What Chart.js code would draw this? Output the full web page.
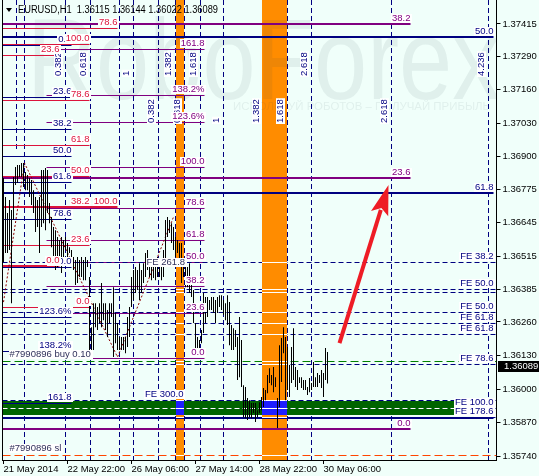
<!DOCTYPE html>
<html>
<head>
<meta charset="utf-8">
<title>EURUSD,H1</title>
<script src="https://cdn.jsdelivr.net/npm/chart.js@4.4.1/dist/chart.umd.min.js"></script>
<style>
  html, body { margin: 0; padding: 0; background: #F0FFFA; }
  canvas { display: block; }
</style>
</head>
<body>
<canvas id="chart" width="539" height="476"></canvas>
<script>
// H1 bars from 21 May 2014 14:00
const highs = [
  1.36818, 1.36744, 1.36682, 1.36733, 1.36694, 1.36822, 1.36861, 1.36868, 1.36868, 1.36876,
  1.36876, 1.36841, 1.36830, 1.36818, 1.36810, 1.36771, 1.36744, 1.36733, 1.36744, 1.36849,
  1.36849, 1.36857, 1.36849, 1.36721, 1.36667, 1.36628, 1.36616, 1.36589, 1.36578, 1.36589,
  1.36578, 1.36589, 1.36566, 1.36550, 1.36539, 1.36512, 1.36500, 1.36512, 1.36500, 1.36512,
  1.36500, 1.36512, 1.36500, 1.36434, 1.36240, 1.36333, 1.36333, 1.36318, 1.36333, 1.36411,
  1.36333, 1.36333, 1.36306, 1.36333, 1.36333, 1.36395, 1.36295, 1.36256, 1.36202, 1.36202,
  1.36202, 1.36202, 1.36279, 1.36318, 1.36434, 1.36461, 1.36473, 1.36461, 1.36488, 1.36461,
  1.36488, 1.36527, 1.36539, 1.36488, 1.36473, 1.36473, 1.36500, 1.36512, 1.36500, 1.36500,
  1.36539, 1.36655, 1.36667, 1.36655, 1.36643, 1.36628, 1.36589, 1.36578, 1.36566, 1.36566,
  1.36500, 1.36500, 1.36473, 1.36488, 1.36434, 1.36384, 1.36256, 1.36202, 1.36190, 1.36229,
  1.36372, 1.36357, 1.36357, 1.36345, 1.36357, 1.36357, 1.36345, 1.36357, 1.36364, 1.36364,
  1.36345, 1.36333, 1.36364, 1.36337, 1.36248, 1.36236, 1.36229, 1.36202, 1.36279, 1.36190,
  1.36015, 1.36008, 1.35965, 1.35957, 1.35946, 1.35946, 1.35946, 1.35918, 1.35949, 1.35969,
  1.36004, 1.35996, 1.36054, 1.36081, 1.36054, 1.36085, 1.36046, 1.35965, 1.36170, 1.36198,
  1.36240, 1.36202, 1.36163, 1.36093, 1.36163, 1.36236, 1.36085, 1.36074, 1.36046, 1.36046,
  1.36035, 1.36035, 1.36008, 1.36043, 1.36023, 1.36105, 1.36046, 1.36062, 1.36054, 1.36074,
  1.36062, 1.36159, 1.36144
];
const lows = [
  1.36492, 1.36527, 1.36527, 1.36539, 1.36333, 1.36655, 1.36791, 1.36799, 1.36822, 1.36822,
  1.36783, 1.36771, 1.36771, 1.36744, 1.36713, 1.36682, 1.36609, 1.36628, 1.36527, 1.36628,
  1.36643, 1.36616, 1.36682, 1.36643, 1.36550, 1.36488, 1.36461, 1.36473, 1.36488, 1.36450,
  1.36500, 1.36539, 1.36488, 1.36527, 1.36488, 1.36461, 1.36403, 1.36411, 1.36434, 1.36434,
  1.36422, 1.36422, 1.36473, 1.36151, 1.36143, 1.36151, 1.36240, 1.36229, 1.36256, 1.36240,
  1.36267, 1.36229, 1.36202, 1.36256, 1.36279, 1.36124, 1.36178, 1.36151, 1.36151, 1.36151,
  1.36151, 1.36139, 1.36163, 1.36202, 1.36318, 1.36345, 1.36372, 1.36384, 1.36345, 1.36372,
  1.36411, 1.36434, 1.36461, 1.36434, 1.36422, 1.36430, 1.36422, 1.36434, 1.36434, 1.36422,
  1.36434, 1.36500, 1.36589, 1.36605, 1.36566, 1.36539, 1.36512, 1.36527, 1.36500, 1.36411,
  1.36434, 1.36395, 1.36395, 1.36372, 1.36357, 1.36256, 1.36124, 1.36124, 1.36151, 1.36178,
  1.36217, 1.36256, 1.36279, 1.36306, 1.36306, 1.36295, 1.36256, 1.36295, 1.36318, 1.36306,
  1.36287, 1.36267, 1.36248, 1.36170, 1.36151, 1.36151, 1.36163, 1.36035, 1.36046, 1.36008,
  1.35891, 1.35887, 1.35880, 1.35891, 1.35887, 1.35907, 1.35872, 1.35891, 1.35907, 1.35918,
  1.35930, 1.35957, 1.35984, 1.36023, 1.36015, 1.35988, 1.36008, 1.35849, 1.35930, 1.36027,
  1.36139, 1.35957, 1.35996, 1.35969, 1.36023, 1.36035, 1.36008, 1.35996, 1.36023, 1.36004,
  1.35996, 1.35996, 1.35977, 1.35988, 1.35996, 1.36008, 1.36008, 1.36008, 1.36023, 1.36004,
  1.35969, 1.36035, 1.36022
];
const slotCount = 247;   // visible bar slots, incl. empty space on the right
const quote = ['1.36115', '1.36144', '1.36022', '1.36089'];
const lastPrice = 1.36089;

const xTickIdx = [0, 32, 64, 96, 128, 160];
const xTickText = ['21 May 2014', '22 May 22:00', '26 May 06:00', '27 May 14:00', '28 May 22:00', '30 May 06:00'];
const yTicks = [1.37415, 1.37290, 1.37160, 1.37030, 1.36900, 1.36775, 1.36645,
                1.36515, 1.36385, 1.36260, 1.36130, 1.36000, 1.35870, 1.35740];
const yMin = 1.35725, yMax = 1.37508;

// fibo time zones: bar index of each line
const tzALevels = ['', '0.382', '0.618', '1', '1.382', '1.618', '2.618', '4.236'];
const tzAIdx = [10, 30.5, 43, 64.5, 85.5, 98, 153.5, 242];
const tzBLevels = ['', '0.382', '0.618', '1', '1.382', '1.618', '2.618'];
const tzBIdx = [57.5, 77, 90, 109.5, 129.5, 141.5, 193.5];
// a short vertical line at the top left (bar index, lowest price reached)
const shortVIdx = 6, shortVEnd = 1.36927;

// rectangles
const orangeFrom = [86, 129];
const orangeTo = [90, 141.5];
const greenTop = 1.35953, greenBottom = 1.35899, greenEnd = 226;

// fibo retracements
const fibNLevels = ['0.0', '23.6', '38.2', '50.0', '61.8', '78.6', '100.0', '123.6%', '138.2%', '161.8'];
const fibNPrices = [1.37334, 1.37132, 1.37008, 1.36903, 1.36802, 1.36659, 1.36473, 1.36279, 1.36147, 1.35946];
const fibNEnd = 34;
const fibRLevels = ['0.0', '23.6', '38.2', '50.0', '61.8', '78.6', '100.0'];
const fibRPrices = [1.36318, 1.36558, 1.36705, 1.36826, 1.36946, 1.37120, 1.37337];
const fibREnd = 43;
const fibPLevels = ['0.0', '23.6', '38.2', '50.0', '61.8', '78.6', '100.0', '123.6%', '138.2%', '161.8'];
const fibPPrices = [1.36120, 1.36295, 1.36400, 1.36492, 1.36578, 1.36702, 1.36861, 1.37035, 1.37140, 1.37318];
const fibPFrom = 21.5, fibPEnd = 100.5;
const redThinLevels = ['78.6', '23.6'];
const redThinPrices = [1.37399, 1.37295];
const redThinEnd = [57, 28];
const redThickLevels = ['100.0', '0.0'];
const redThickPrices = [1.36705, 1.36477];
const redThickEnd = [57, 28];
const bigPurpleLevels = ['0.0', '23.6', '38.2'];
const bigPurplePrices = [1.35845, 1.36818, 1.37415];
const bigPurpleEnd = 203.5;
const bigNavyLevels = ['50.0', '61.8', '78.6'];
const bigNavyPrices = [1.37365, 1.36760, 1.35887];
const bigNavyEnd = 245;

// fibo expansion lines
const feNames = ['FE 38.2', 'FE 50.0', '', 'FE 50.0', 'FE 61.8', 'FE 61.8', 'FE 78.6', 'FE 300.0', 'FE 100.0', 'FE 178.6'];
const fePrices = [1.36492, 1.36388, 1.36376, 1.36298, 1.36256, 1.36213, 1.36097, 1.35957, 1.35926, 1.35891];
const feLabelIdx = [245, 245, 245, 245, 245, 245, 245, 90, 245, 245];

// order lines and free texts
const buyPrice = 1.36108, slPrice = 1.35744;
const noteTexts = ['FE 261.8', '#7990896 buy 0.10', '#7990896 sl'];
const noteIdx = [71.5, 3, 3];
const notePrices = [1.36473, 1.36116, 1.35752];

// zigzag and arrow
const zzIdx = [0, 10.5, 57, 85];
const zzPrices = [1.36337, 1.36876, 1.36124, 1.36667];
const arrowIdx = [168, 192.5];
const arrowPrices = [1.36178, 1.36791];

const NAVY = '#000080', PURPLE = '#800080', RED = '#DC143C';
const LABEL_FONT = '9.5px "Liberation Sans", Arial, sans-serif';

function hasFont(name) {
  const c = document.createElement('canvas').getContext('2d');
  c.font = '20px monospace';
  const a = c.measureText('1.37415 May').width;
  c.font = `20px "${name}", monospace`;
  return Math.abs(c.measureText('1.37415 May').width - a) > 0.5;
}
const axisFont = hasFont('Liberation Sans Narrow')
  ? { family: '"Liberation Sans Narrow"', size: 11 }
  : { family: '"Liberation Sans"', size: 9.5 };

function tag(ctx, text, xr, yLine, color) {
  if (!text) return;
  ctx.font = LABEL_FONT;
  const w = ctx.measureText(text).width;
  ctx.fillStyle = '#fff';
  ctx.fillRect(Math.round(xr - w - 1), Math.round(yLine) - 10, Math.ceil(w + 2), 9);
  ctx.fillStyle = color;
  ctx.textAlign = 'right';
  ctx.textBaseline = 'bottom';
  ctx.fillText(text, xr, Math.round(yLine) - 1);
}

function vtag(ctx, text, xLine, yStart) {
  if (!text) return;
  ctx.save();
  ctx.translate(Math.round(xLine) - 2, yStart);
  ctx.rotate(-Math.PI / 2);
  ctx.font = LABEL_FONT;
  const w = ctx.measureText(text).width;
  ctx.fillStyle = '#fff';
  ctx.fillRect(-1, -9, w + 2, 9);
  ctx.fillStyle = NAVY;
  ctx.textAlign = 'left';
  ctx.textBaseline = 'bottom';
  ctx.fillText(text, 0, 0);
  ctx.restore();
}

const mt4Objects = {
  id: 'mt4Objects',
  beforeDatasetsDraw(chart) {
    const { ctx, chartArea: a, scales: { x, y } } = chart;
    const X = i => x.getPixelForValue(i);
    const row = p => Math.round(y.getPixelForValue(p)) + 0.5;
    const col = i => Math.round(X(i)) + 0.5;
    const hline = (p, x0, x1, color, w, dash) => {
      const yy = w === 2 ? Math.round(y.getPixelForValue(p)) : row(p);
      ctx.strokeStyle = color;
      ctx.lineWidth = w;
      ctx.setLineDash(dash || []);
      ctx.beginPath();
      ctx.moveTo(x0, yy);
      ctx.lineTo(x1, yy);
      ctx.stroke();
    };

    ctx.save();
    ctx.beginPath();
    ctx.rect(a.left, a.top, a.width, a.height);
    ctx.clip();

    // time zone lines
    ctx.strokeStyle = NAVY;
    ctx.lineWidth = 1;
    ctx.setLineDash([5, 3]);
    [...tzAIdx, ...tzBIdx].forEach(i => {
      ctx.beginPath();
      ctx.moveTo(col(i), a.top);
      ctx.lineTo(col(i), a.bottom);
      ctx.stroke();
    });
    ctx.beginPath();
    ctx.moveTo(col(shortVIdx), a.top);
    ctx.lineTo(col(shortVIdx), y.getPixelForValue(shortVEnd));
    ctx.stroke();
    ctx.setLineDash([]);

    // orange bands, green zone, and their overlap
    const bands = orangeFrom.map((f, k) => [Math.round(X(f)), Math.round(X(orangeTo[k]))]);
    ctx.fillStyle = '#FF8C00';
    bands.forEach(([l, r]) => ctx.fillRect(l, a.top, r - l, a.height));
    const gt = Math.round(y.getPixelForValue(greenTop));
    const gb = Math.round(y.getPixelForValue(greenBottom));
    ctx.fillStyle = '#006400';
    ctx.fillRect(a.left, gt, Math.round(X(greenEnd)) - a.left, gb - gt);
    ctx.fillStyle = '#1E1EFF';
    bands.forEach(([l, r]) => ctx.fillRect(l, gt, r - l, gb - gt));

    // watermark
    ctx.save();
    ctx.fillStyle = 'rgba(40,70,80,0.08)';
    ctx.font = '115px "Liberation Sans", Arial, sans-serif';
    const wm = 'RoboForex';
    ctx.translate(27, 99);
    ctx.scale(473 / ctx.measureText(wm).width, 1);
    ctx.textBaseline = 'alphabetic';
    ctx.fillText(wm, 0, 0);
    ctx.restore();
    ctx.save();
    ctx.fillStyle = 'rgba(40,70,80,0.08)';
    ctx.font = '11px "Liberation Sans", Arial, sans-serif';
    const sub = 'ИСПОЛЬЗУЙ РОБОТОВ – ПОЛУЧАЙ ПРИБЫЛЬ';
    ctx.translate(233, 110);
    ctx.scale(257 / ctx.measureText(sub).width, 1);
    ctx.fillText(sub, 0, 0);
    ctx.restore();

    // retracement lines
    fibNPrices.forEach(p => hline(p, a.left, X(fibNEnd), NAVY, 1));
    fibRPrices.forEach(p => hline(p, a.left, X(fibREnd), RED, 1));
    fibPPrices.forEach(p => hline(p, X(fibPFrom), X(fibPEnd), PURPLE, 1));
    redThinPrices.forEach((p, k) => hline(p, a.left, X(redThinEnd[k]), RED, 1));
    redThickPrices.forEach((p, k) => hline(p, a.left, X(redThickEnd[k]), RED, 2));
    bigPurplePrices.forEach(p => hline(p, a.left, X(bigPurpleEnd), PURPLE, 2));
    bigNavyPrices.forEach(p => hline(p, a.left, X(bigNavyEnd), NAVY, 2));

    // expansion and order lines
    fePrices.forEach(p => hline(p, a.left, a.right, NAVY, 1, [5, 3]));
    hline(buyPrice, a.left, a.right, '#008000', 1, [8, 4]);
    hline(slPrice, a.left, a.right, '#FF4500', 1, [8, 4]);

    // dashed lines turn white where they cross the filled rectangles
    ctx.save();
    ctx.beginPath();
    bands.forEach(([l, r]) => ctx.rect(l, a.top, r - l, a.height));
    ctx.clip();
    [...fePrices, buyPrice, slPrice].forEach(p => hline(p, a.left, a.right, '#fff', 1));
    ctx.restore();
    ctx.save();
    ctx.beginPath();
    ctx.rect(a.left, gt, Math.round(X(greenEnd)) - a.left, gb - gt);
    ctx.clip();
    fePrices.forEach(p => hline(p, a.left, a.right, '#fff', 1, [5, 3]));
    ctx.restore();

    // zigzag
    ctx.strokeStyle = '#8B0000';
    ctx.lineWidth = 1;
    ctx.setLineDash([2, 2]);
    ctx.beginPath();
    zzIdx.forEach((i, k) => {
      const px = X(i), py = y.getPixelForValue(zzPrices[k]);
      k ? ctx.lineTo(px, py) : ctx.moveTo(px, py);
    });
    ctx.stroke();
    ctx.setLineDash([]);
    ctx.restore();
  },

  afterDatasetsDraw(chart) {
    const { ctx, chartArea: a, scales: { x, y } } = chart;
    const X = i => x.getPixelForValue(i);
    const Y = p => y.getPixelForValue(p);
    ctx.save();
    ctx.beginPath();
    ctx.rect(a.left, a.top, a.width, a.height);
    ctx.clip();

    tzAIdx.forEach((i, k) => vtag(ctx, tzALevels[k], X(i), 76));
    tzBIdx.forEach((i, k) => vtag(ctx, tzBLevels[k], X(i), 123));

    fibNPrices.forEach((p, k) => tag(ctx, fibNLevels[k], X(fibNEnd), Y(p), NAVY));
    fibRPrices.forEach((p, k) => tag(ctx, fibRLevels[k], X(fibREnd), Y(p), RED));
    redThinPrices.forEach((p, k) => tag(ctx, redThinLevels[k], X(redThinEnd[k]), Y(p), RED));
    redThickPrices.forEach((p, k) => tag(ctx, redThickLevels[k], X(redThickEnd[k]), Y(p), RED));
    fibPPrices.forEach((p, k) => tag(ctx, fibPLevels[k], X(fibPEnd), Y(p), PURPLE));
    bigPurplePrices.forEach((p, k) => tag(ctx, bigPurpleLevels[k], X(bigPurpleEnd), Y(p), PURPLE));
    bigNavyPrices.forEach((p, k) => tag(ctx, bigNavyLevels[k], X(bigNavyEnd), Y(p), NAVY));
    fePrices.forEach((p, k) => tag(ctx, feNames[k], X(feLabelIdx[k]), Y(p), NAVY));

    ctx.font = LABEL_FONT;
    ctx.textAlign = 'left';
    ctx.textBaseline = 'bottom';
    noteTexts.forEach((t, k) => {
      const w = ctx.measureText(t).width;
      const nx = X(noteIdx[k]), ny = Math.round(Y(notePrices[k]));
      ctx.fillStyle = '#fff';
      ctx.fillRect(Math.round(nx) - 1, ny - 9, Math.ceil(w) + 2, 9);
      ctx.fillStyle = '#30305A';
      ctx.fillText(t, nx, ny);
    });

    // red arrow
    const x0 = X(arrowIdx[0]), y0 = Y(arrowPrices[0]);
    const x1 = X(arrowIdx[1]), y1 = Y(arrowPrices[1]);
    const ang = Math.atan2(y1 - y0, x1 - x0);
    const head = 30, half = 9;
    const bx = x1 - head * Math.cos(ang), by = y1 - head * Math.sin(ang);
    ctx.strokeStyle = '#EE1C25';
    ctx.fillStyle = '#EE1C25';
    ctx.lineWidth = 4;
    ctx.beginPath();
    ctx.moveTo(x0, y0);
    ctx.lineTo(bx + 4 * Math.cos(ang), by + 4 * Math.sin(ang));
    ctx.stroke();
    ctx.beginPath();
    ctx.moveTo(x1, y1);
    ctx.lineTo(bx + half * Math.sin(ang), by - half * Math.cos(ang));
    ctx.lineTo(bx + 6 * Math.cos(ang), by + 6 * Math.sin(ang));
    ctx.lineTo(bx - half * Math.sin(ang), by + half * Math.cos(ang));
    ctx.closePath();
    ctx.fill();
    ctx.restore();
  },

  afterDraw(chart) {
    const { ctx, chartArea: a, scales: { y } } = chart;
    ctx.save();
    // left frame
    ctx.strokeStyle = '#000';
    ctx.lineWidth = 1;
    ctx.beginPath();
    ctx.moveTo(a.left, 0);
    ctx.lineTo(a.left, a.bottom);
    ctx.stroke();

    // title
    ctx.fillStyle = '#000';
    ctx.beginPath();
    ctx.moveTo(6, 8);
    ctx.lineTo(12, 8);
    ctx.lineTo(9, 12);
    ctx.closePath();
    ctx.fill();
    ctx.font = '10px "Liberation Sans", Arial, sans-serif';
    ctx.textAlign = 'left';
    ctx.textBaseline = 'alphabetic';
    const title = 'EURUSD,H1  ' + quote.join(' ');
    const tw = ctx.measureText(title).width;
    ctx.save();
    ctx.translate(18, 13);
    ctx.scale(200 / tw, 1);
    ctx.fillText(title, 0, 0);
    ctx.restore();

    // last price box
    const py = Math.round(y.getPixelForValue(lastPrice));
    ctx.fillStyle = '#000';
    ctx.fillRect(Math.round(a.right) + 1, py - 5, 539 - Math.round(a.right) - 1, 11);
    ctx.fillStyle = '#fff';
    ctx.font = `${axisFont.size}px ${axisFont.family}`;
    ctx.textBaseline = 'middle';
    ctx.fillText(lastPrice.toFixed(5), Math.round(a.right) + 7, py + 0.5);
    ctx.restore();
  }
};

new Chart(document.getElementById('chart'), {
  type: 'bar',
  data: {
    labels: Array.from({ length: slotCount }, (_, i) => i),
    datasets: [{
      data: lows.map((l, i) => [l, highs[i]]),
      backgroundColor: '#000',
      barThickness: 1,
      borderWidth: 0,
      inflateAmount: 0
    }]
  },
  options: {
    responsive: false,
    animation: false,
    events: [],
    layout: { padding: { left: 2.5, top: 0, right: 0, bottom: 0 } },
    plugins: { legend: { display: false }, tooltip: { enabled: false } },
    scales: {
      x: {
        type: 'category',
        offset: true,
        grid: { display: true, drawOnChartArea: false, offset: false, tickLength: 4, color: '#000' },
        border: { display: true, color: '#000' },
        ticks: {
          autoSkip: false, maxRotation: 0, align: 'start', padding: 0,
          color: '#000', font: axisFont,
          callback: (v, i) => xTickText[i]
        },
        afterBuildTicks: s => { s.ticks = xTickIdx.map(v => ({ value: v })); },
        afterFit: s => { s.height = 16; s.paddingLeft = 0; s.paddingRight = 0; }
      },
      y: {
        position: 'right',
        min: yMin,
        max: yMax,
        grid: { drawOnChartArea: false, tickLength: 4, color: '#000' },
        border: { display: true, color: '#000' },
        ticks: { padding: 2, color: '#000', font: axisFont, callback: v => v.toFixed(5) },
        afterBuildTicks: s => { s.ticks = yTicks.map(v => ({ value: v })); },
        afterFit: s => { s.width = 42.5; s.paddingTop = 0; s.paddingBottom = 0; }
      }
    }
  },
  plugins: [mt4Objects]
});
</script>
</body>
</html>
